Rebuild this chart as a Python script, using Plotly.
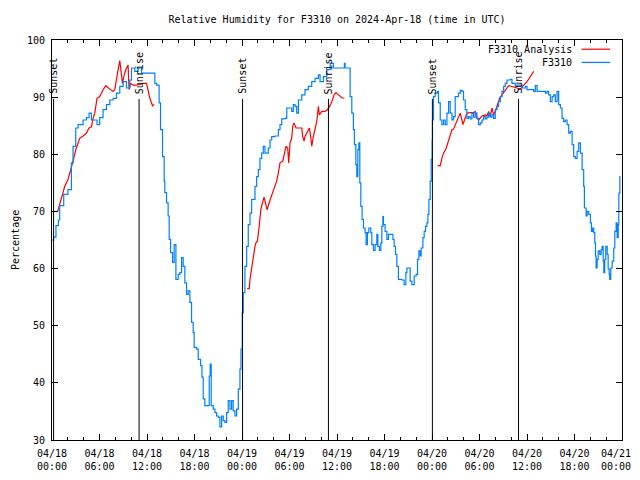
import pandas as pd
import plotly.graph_objects as go

BASE = pd.Timestamp("2024-04-18 00:00")

# F3310 observations: hours after 2024-04-18 00:00 UTC, relative humidity (%)
obs_hours = [0.0, 0.2, 0.5, 0.8, 0.97, 1.48, 2.02, 2.45, 2.66, 3.00, 3.29, 3.92, 4.35, 4.68, 4.98,
             5.40, 5.69, 6.03, 6.45, 6.88, 7.30, 7.72, 8.15, 8.56, 8.98, 9.41, 9.83, 10.04, 10.46,
             10.88, 11.31, 11.73, 12.36, 12.78, 12.99, 13.21, 13.53, 13.71, 13.96, 14.17, 14.25,
             14.47, 14.67, 14.80, 14.98, 15.23, 15.43, 15.65, 15.94, 16.15, 16.37, 16.57, 16.78,
             17.00, 17.20, 17.42, 17.63, 17.83, 17.96, 18.26, 18.47, 18.77, 18.94, 19.10, 19.31,
             19.73, 19.86, 19.98, 20.11, 20.36, 20.58, 20.79, 21.00, 21.21, 21.43, 21.63, 21.84,
             22.06, 22.26, 22.48, 22.69, 22.89, 23.11, 23.32, 23.53, 23.74, 23.87, 24.03, 24.16,
             24.37, 24.59, 24.79, 25.01, 25.22, 25.64, 25.85, 26.06, 26.27, 26.49, 26.69, 26.90,
             27.32, 27.54, 27.75, 28.17, 28.59, 28.80, 29.02, 29.43, 29.65, 30.07, 30.28, 30.48,
             30.70, 30.91, 31.12, 31.55, 31.96, 32.38, 32.81, 33.23, 33.65, 33.86, 34.28, 34.71,
             35.13, 35.54, 36.39, 36.93, 37.02, 37.44, 37.66, 37.87, 38.07, 38.20, 38.38, 38.50,
             38.63, 38.76, 38.88, 39.01, 39.17, 39.34, 39.55, 39.68, 39.84, 40.02, 40.27, 40.40,
             40.60, 40.82, 41.03, 41.16, 41.36, 41.54, 41.66, 41.79, 41.87, 42.08, 42.30, 42.50,
             42.80, 43.06, 43.22, 43.39, 43.56, 43.76, 44.19, 44.48, 44.70, 44.83, 45.03, 45.24,
             45.46, 45.75, 46.00, 46.17, 46.34, 46.51, 46.63, 46.85, 47.01, 47.18, 47.36, 47.48,
             47.61, 47.77, 47.90, 48.02, 48.06, 48.19, 48.40, 48.70, 48.82, 49.04, 49.25, 49.46,
             49.67, 49.89, 50.09, 50.30, 50.52, 50.72, 50.93, 51.35, 51.57, 51.78, 51.98, 52.20,
             52.41, 52.61, 52.83, 53.04, 53.25, 53.46, 53.68, 53.88, 54.10, 54.31, 54.51, 54.73,
             54.94, 55.15, 55.36, 55.58, 55.78, 55.99, 56.21, 56.41, 56.63, 56.84, 57.05, 57.26,
             57.47, 57.89, 58.10, 58.31, 58.52, 58.73, 59.15, 59.37, 59.79, 60.00, 60.42, 60.84,
             61.05, 61.27, 61.69, 62.11, 62.32, 62.53, 62.74, 62.95, 63.17, 63.37, 63.58, 63.80,
             64.00, 64.22, 64.43, 64.63, 64.85, 65.06, 65.27, 65.48, 65.70, 65.90, 66.11, 66.33,
             66.53, 66.75, 66.96, 67.16, 67.25, 67.47, 67.60, 67.80, 68.01, 68.14, 68.30, 68.43,
             68.56, 68.65, 68.73, 68.86, 68.99, 69.19, 69.37, 69.49, 69.62, 69.70, 69.82, 69.95,
             70.13, 70.25, 70.38, 70.45, 70.58, 70.76, 70.96, 71.09, 71.26, 71.39, 71.52, 71.60,
             71.73, 71.81]
obs_values = [65.0, 65.5, 67.5, 68.5, 71.0, 73.0, 73.8, 78.5, 81.4, 84.6, 85.2, 86.0, 86.4, 87.2, 86.0,
              86.0, 85.2, 86.4, 87.8, 88.7, 89.5, 89.8, 90.7, 91.9, 92.7, 91.6, 93.0, 95.1, 94.5,
              95.1, 94.2, 94.2, 94.2, 94.2, 92.4, 92.1, 89.0, 84.3, 79.6, 75.3, 73.3,
              71.5, 69.2, 65.1, 62.8, 61.1, 64.2, 58.1, 59.0, 59.3, 61.9, 60.4, 57.5,
              55.5, 56.1, 54.1, 50.6, 48.8, 46.2, 45.9, 44.1, 43.0, 41.0, 37.2, 36.0,
              36.0, 41.2, 43.3, 36.0, 35.4, 34.8, 34.2, 34.0, 32.3, 34.2, 33.4, 33.1,
              34.8, 36.9, 35.4, 36.9, 35.1, 34.2, 35.4, 38.9, 42.4, 45.9, 52.3, 55.8,
              60.4, 63.9, 67.7, 69.7, 72.1, 74.4, 76.1, 77.3, 79.3, 80.2, 81.4, 80.2,
              81.1, 82.5, 83.1, 83.2, 84.3, 85.2, 86.2, 86.3, 88.1, 88.1, 87.5, 88.7,
              88.4, 87.2, 89.5, 90.4, 91.3, 91.9, 92.7, 93.3, 93.9, 92.7, 93.6, 94.8,
              95.9, 95.1, 95.1, 95.9, 95.1, 95.1, 90.1, 87.2, 84.3, 81.7, 78.2, 76.1,
              80.8, 82.0, 75.0, 70.9, 68.6, 67.1, 66.3, 64.2, 66.3, 67.1, 66.3, 64.2,
              63.2, 64.2, 66.0, 63.9, 63.2, 64.5, 67.4, 69.1, 67.7, 66.5, 65.1, 66.0,
              66.0, 65.1, 63.9, 62.5, 60.4, 58.1, 58.0, 57.2, 59.3, 60.1, 60.1, 57.8,
              57.2, 58.7, 59.0, 61.6, 63.1, 62.2, 63.6, 65.4, 66.5, 67.4, 68.0, 69.5,
              72.1, 75.3, 79.1, 82.5, 86.0, 90.1, 90.7, 91.0, 89.0, 86.0, 85.2, 86.0,
              85.2, 87.2, 89.2, 87.2, 86.0, 86.6, 90.1, 90.7, 91.2, 91.0, 89.5, 87.8,
              86.3, 86.6, 86.2, 87.2, 86.5, 87.2, 86.3, 85.2, 85.5, 86.0, 86.6, 86.2,
              86.5, 87.2, 86.5, 86.9, 86.3, 87.8, 88.4, 89.2, 90.1, 91.0, 91.9, 92.4,
              93.0, 93.1, 92.4, 92.4, 91.9, 92.1, 92.1, 91.6, 91.9, 91.3, 91.3, 91.0,
              92.0, 91.0, 91.0, 91.0, 90.7, 91.0, 90.4, 89.2, 90.1, 90.4, 89.2, 91.0,
              88.7, 88.1, 86.3, 85.7, 86.0, 85.2, 83.7, 84.0, 81.7, 79.6, 79.3, 80.5,
              82.0, 80.2, 77.3, 74.4, 70.6, 69.2, 70.0, 69.5, 68.0, 66.5, 67.1, 66.3,
              64.5, 62.2, 60.1, 61.6, 63.1, 62.5, 63.3, 63.9, 61.3, 59.3, 61.6, 63.9,
              62.5, 59.9, 59.0, 58.1, 60.1, 61.3, 63.6, 66.5, 68.0, 65.4, 67.7, 73.2,
              76.1, 76.1]

# F3310 Analysis: three daytime segments (None = gap)
ana_hours = [0.72, 1.61, 2.02, 2.33, 2.66, 3.00, 3.29, 3.50, 3.92, 4.35, 4.68, 4.98, 5.19, 5.40,
             5.69, 6.03, 6.45, 6.79, 7.30, 7.72, 7.93, 8.15, 8.35, 8.56, 8.69, 8.90, 9.07, 9.32,
             9.61, 9.74, 9.92, 10.25, 10.68, 11.09, 11.51, 11.94, 12.14, 12.36, 12.70, 12.90,
             18.0,
             24.66, 24.92, 25.01, 25.22, 25.42, 25.64, 25.76, 25.93, 26.06, 26.18, 26.40, 26.78,
             27.16, 27.54, 27.92, 28.17, 28.38, 28.59, 28.80, 29.14, 29.31, 29.56, 29.77, 29.90,
             30.07, 30.28, 30.41, 30.57, 30.82, 31.12, 31.55, 31.67, 31.84, 31.96, 32.25, 32.51,
             32.68, 32.81, 33.01, 33.23, 33.44, 33.65, 33.77, 34.08, 34.49, 34.78, 35.04, 35.34,
             35.63, 35.88, 36.18, 36.61, 36.93,
             42.0,
             48.70, 49.04, 49.25, 49.46, 49.80, 50.09, 50.30, 50.52, 50.72, 50.93, 51.15, 51.35,
             51.57, 51.78, 51.91, 52.11, 52.41, 52.83, 53.25, 53.46, 53.68, 53.88, 54.31, 54.73,
             54.94, 55.15, 55.36, 55.58, 55.78, 55.99, 56.28, 56.54, 56.84, 57.13, 57.39, 57.68,
             57.98, 58.31, 58.73, 59.15, 59.37, 59.58, 60.00, 60.42, 60.84]
ana_values = [70.0, 74.4, 75.6, 77.0, 78.8, 80.8, 82.0, 82.8, 83.2, 83.7, 84.6, 84.8, 86.3, 87.2,
              89.8, 90.1, 91.3, 92.0, 91.4, 91.0, 91.3, 93.6, 94.8, 96.4, 94.5, 92.4, 93.6, 94.8,
              95.6, 91.3, 92.4, 92.1, 92.1, 92.3, 92.4, 92.4, 91.0, 89.8, 88.5, 88.7,
              None,
              56.5, 56.5, 58.1, 60.1, 62.5, 63.9, 64.5, 64.8, 66.0, 67.4, 70.5, 72.5,
              70.3, 72.0, 73.5, 74.4, 75.3, 76.7, 78.5, 78.8, 79.9, 81.4, 81.1, 78.5,
              82.0, 82.8, 84.9, 85.5, 84.6, 84.6, 84.6, 83.1, 82.3, 83.1, 84.0, 84.6,
              83.1, 81.4, 83.1, 84.3, 85.7, 88.4, 86.9, 87.5, 87.5, 87.8, 88.3, 89.2,
              90.4, 90.8, 90.4, 89.9, 89.8,
              None,
              78.0, 78.0, 79.3, 80.2, 81.1, 82.3, 83.4, 84.3, 84.4, 85.2, 85.7, 86.5,
              87.2, 86.0, 85.2, 86.0, 87.2, 87.3, 87.3, 87.5, 86.3, 86.0, 86.7, 86.9,
              86.7, 87.5, 86.6, 88.1, 86.9, 87.5, 88.7, 89.8, 90.4, 91.0, 91.6, 92.0,
              91.9, 91.8, 91.6, 91.4, 91.8, 92.1, 92.7, 93.6, 94.5]

# Sun events (hours after 2024-04-18 00:00 UTC)
sun_hours = [0.2, 11.0, 24.07, 34.92, 48.05, 58.93]
sun_labels = ["Sunset", "Sunrise", "Sunset", "Sunrise", "Sunset", "Sunrise"]

# x ticks every 6 h over the three days; y ticks every 10 %
x_tick_hours = [0, 6, 12, 18, 24, 30, 36, 42, 48, 54, 60, 66, 72]
y_ticks = [30, 40, 50, 60, 70, 80, 90, 100]

FONT = "DejaVu Sans Mono"
RED = "#ff0000"
BLUE = "#0080ff"

# page body has an 8px margin, so the figure is sized to fit the rest of the window
FIG_W, FIG_H = 632, 464


def to_time(hours):
    return [BASE + pd.Timedelta(hours=h) for h in hours]


tick_times = to_time(x_tick_hours)
tick_texts = [t.strftime("%m/%d<br>%H:%M") for t in tick_times]
last_tick_text = tick_texts[-1]
tick_texts_axis = tick_texts[:-1] + [""]   # last label drawn as annotation so it stays in view

fig = go.Figure()

fig.add_trace(go.Scatter(x=to_time(ana_hours), y=ana_values, mode="lines",
                         name="F3310 Analysis", line=dict(color=RED, width=1.2),
                         connectgaps=False))
fig.add_trace(go.Scatter(x=to_time(obs_hours), y=obs_values, mode="lines",
                         name="F3310", line=dict(color=BLUE, width=1.2, shape="hv")))

for t, lab in zip(to_time(sun_hours), sun_labels):
    fig.add_shape(type="line", xref="x", yref="y", x0=t, x1=t, y0=30, y1=89.7,
                  line=dict(color="black", width=1))
    fig.add_annotation(x=t, y=90, xref="x", yref="y", text=lab, textangle=-90,
                       showarrow=False, xanchor="center", yanchor="bottom", yshift=1,
                       font=dict(family=FONT, size=10, color="black"))

# gnuplot-style key: label then line sample
key = [("F3310 Analysis", RED, 0.977), ("F3310", BLUE, 0.944)]
for lab, col, yy in key:
    fig.add_annotation(x=0.916, y=yy, xref="paper", yref="paper", text=lab,
                       showarrow=False, xanchor="right", yanchor="middle",
                       font=dict(family=FONT, size=10, color="black"))
    fig.add_shape(type="line", xref="paper", yref="paper", x0=0.929, x1=0.979,
                  y0=yy, y1=yy, line=dict(color=col, width=1.2))

fig.add_annotation(x=0, y=0.5, xref="paper", yref="paper", text="Percentage",
                   textangle=-90, showarrow=False, xanchor="center", yanchor="middle",
                   xshift=-37, font=dict(family=FONT, size=10, color="black"))

fig.add_annotation(x=tick_times[-1], y=0, xref="x", yref="paper", text=last_tick_text,
                   showarrow=False, xanchor="right", yanchor="top", xshift=11, yshift=-6,
                   font=dict(family=FONT, size=10, color="black"))

fig.update_layout(
    width=FIG_W, height=FIG_H,
    margin=dict(l=44, r=18, t=32, b=32, autoexpand=False),
    paper_bgcolor="white", plot_bgcolor="white",
    showlegend=False,
    font=dict(family=FONT, size=10, color="black"),
    title=dict(text="Relative Humidity for F3310 on 2024-Apr-18 (time in UTC)",
               x=0.5, xref="paper", y=1 - 11 / FIG_H, yref="container",
               xanchor="center", yanchor="middle",
               font=dict(family=FONT, size=10, color="black")),
)

fig.update_xaxes(
    type="date",
    range=[BASE, BASE + pd.Timedelta(hours=72)],
    tickvals=tick_times, ticktext=tick_texts_axis,
    ticks="inside", ticklen=6, tickcolor="black", tickwidth=1,
    ticklabelstandoff=4,
    minor=dict(dtick=2 * 3600 * 1000, tick0=BASE, ticks="inside", ticklen=3,
               tickcolor="black", showgrid=False),
    showline=True, linecolor="black", linewidth=1, mirror="allticks",
    showgrid=False, zeroline=False,
    tickfont=dict(family=FONT, size=10, color="black"),
)
fig.update_yaxes(
    range=[30, 100], tickvals=y_ticks,
    ticks="inside", ticklen=6, tickcolor="black", tickwidth=1,
    ticklabelstandoff=4,
    showline=True, linecolor="black", linewidth=1, mirror="allticks",
    showgrid=False, zeroline=False,
    tickfont=dict(family=FONT, size=10, color="black"),
)

fig.write_html("out.html")
